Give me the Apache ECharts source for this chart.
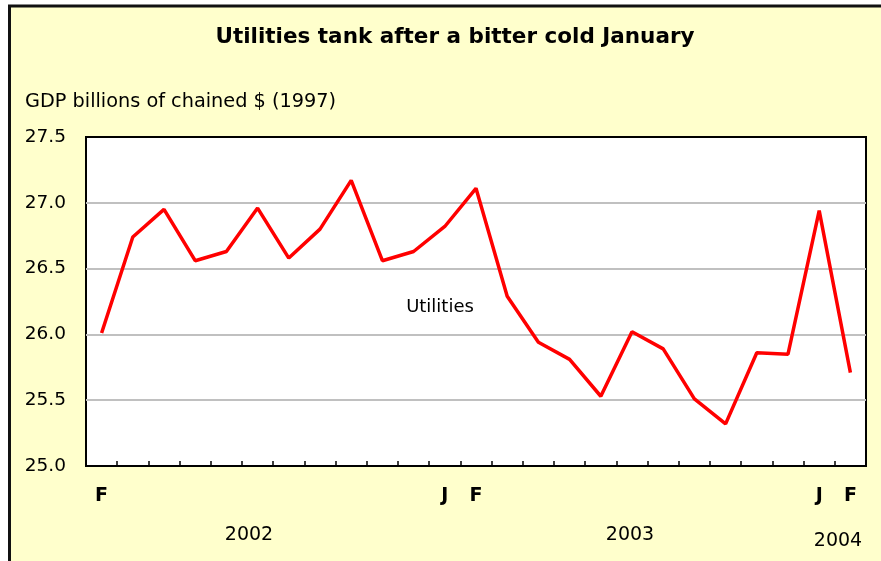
<!DOCTYPE html>
<html>
<head>
<meta charset="utf-8">
<script src="https://cdn.jsdelivr.net/npm/echarts@6/dist/echarts.min.js"></script>
<style>
html,body{margin:0;padding:0;background:#fff;}
#chart{width:881px;height:561px;}
</style>
</head>
<body>
<div id="chart"></div>
<script>
// months Feb 2002 .. Feb 2004
var months = ['F','M','A','M','J','J','A','S','O','N','D','J',
              'F','M','A','M','J','J','A','S','O','N','D','J','F'];
var shownMonthIdx = [0, 11, 12, 23, 24];
var utilities = [26.01, 26.74, 26.95, 26.56, 26.63, 26.96, 26.58, 26.80, 27.17, 26.56, 26.63, 26.82,
                 27.11, 26.29, 25.94, 25.81, 25.53, 26.02, 25.89, 25.51, 25.32, 25.86, 25.85, 26.94, 25.71];
var yearLabels = ['2002', '2003', '2004'];
var yTicks = [25.0, 25.5, 26.0, 26.5, 27.0, 27.5];

var font = 'DejaVu Sans, Arial, sans-serif';
var chart = echarts.init(document.getElementById('chart'));

var option = {
    backgroundColor:'#fff',
    animation:false,
    textStyle:{fontFamily:font},
    title:{
        text:'Utilities tank after a bitter cold January',
        left:450, top:21, textAlign:'center',
        textStyle:{fontSize:21.5, fontWeight:'bold', color:'#000', fontFamily:font}
    },
    grid:{
        left:86, top:137, right:15, bottom:95,
        show:true, backgroundColor:'#fff', borderColor:'#000', borderWidth:2
    },
    xAxis:{
        type:'category',
        data:months,
        boundaryGap:true,
        axisLine:{show:true, lineStyle:{color:'#000', width:2}},
        axisTick:{show:true, inside:true, length:5, interval:0, lineStyle:{color:'#000', width:1.5}},
        axisLabel:{
            interval:0, margin:21, fontSize:19, fontWeight:'bold', color:'#000', fontFamily:font,
            formatter:function(v, i){ return shownMonthIdx.indexOf(i) >= 0 ? v : ''; }
        },
        splitLine:{show:false}
    },
    yAxis:{
        type:'value',
        min:yTicks[0], max:yTicks[yTicks.length-1], interval:0.5,
        name:'GDP billions of chained $ (1997)',
        nameLocation:'end',
        nameGap:26,
        nameTextStyle:{fontSize:19.3, color:'#000', align:'left', padding:[0,0,0,-61], fontFamily:font},
        axisLine:{show:false},
        axisTick:{show:false},
        axisLabel:{fontSize:18.5, color:'#000', margin:20, fontFamily:font,
            formatter:function(v){ return v.toFixed(1); }},
        splitLine:{showMaxLine:false, showMinLine:false, lineStyle:{color:'#c0c0c0', width:2}}
    },
    series:[{
        name:'Utilities',
        type:'line',
        data:utilities,
        showSymbol:false,
        symbol:'none',
        lineStyle:{color:'#ff0000', width:3.5},
        itemStyle:{color:'#ff0000'}
    }],
    graphic:[
        {type:'rect', z:-10, silent:true,
         shape:{x:9.5, y:6, width:880, height:560},
         style:{fill:'#ffffcc', stroke:'#111', lineWidth:3}},
        {type:'text', x:440, y:307, z:10,
         style:{text:'Utilities', fill:'#000', font:'18px ' + font, textAlign:'center', textVerticalAlign:'middle'}},
        {type:'text', x:249, y:535,
         style:{text:yearLabels[0], fill:'#000', font:'19px ' + font, textAlign:'center', textVerticalAlign:'middle'}},
        {type:'text', x:630, y:535,
         style:{text:yearLabels[1], fill:'#000', font:'19px ' + font, textAlign:'center', textVerticalAlign:'middle'}},
        {type:'text', x:838, y:541,
         style:{text:yearLabels[2], fill:'#000', font:'19px ' + font, textAlign:'center', textVerticalAlign:'middle'}}
    ]
};
chart.setOption(option);
</script>
</body>
</html>
